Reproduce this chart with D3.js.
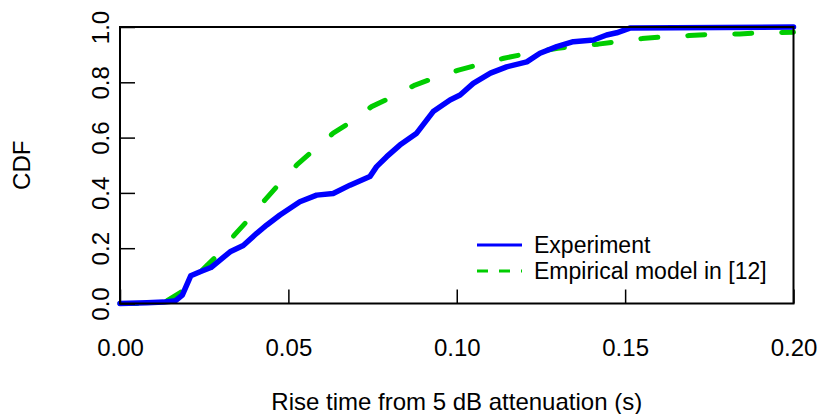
<!DOCTYPE html>
<html>
<head>
<meta charset="utf-8">
<script src="https://cdn.jsdelivr.net/npm/d3@7"></script>
<style>
  body { margin: 0; background: #fff; }
  text { font-family: "Liberation Sans", Arial, Helvetica, sans-serif; fill: #000; }
</style>
</head>
<body>
<div id="chart"></div>
<script>
// values
var expX = [0, 0.008, 0.013, 0.0165, 0.0185, 0.021, 0.0238, 0.027, 0.0297, 0.0327, 0.0366, 0.0406, 0.0436, 0.0475, 0.0534, 0.0584, 0.0633, 0.0683, 0.0742, 0.0762, 0.0792, 0.0831, 0.0881, 0.093, 0.098, 0.101, 0.1049, 0.110, 0.1148, 0.1208, 0.1247, 0.1297, 0.1346, 0.1406, 0.1445, 0.1475, 0.1514, 0.2];
var expY = [0, 0.003, 0.005, 0.01, 0.03, 0.10, 0.115, 0.13, 0.157, 0.187, 0.21, 0.254, 0.284, 0.32, 0.368, 0.392, 0.398, 0.428, 0.459, 0.495, 0.531, 0.573, 0.616, 0.694, 0.736, 0.754, 0.796, 0.833, 0.856, 0.874, 0.905, 0.929, 0.947, 0.953, 0.971, 0.979, 0.996, 1.0];
var modX = [0, 0.012, 0.014, 0.018, 0.022, 0.026, 0.029, 0.034, 0.0376, 0.043, 0.047, 0.0525, 0.057, 0.0633, 0.068, 0.0747, 0.08, 0.0876, 0.093, 0.1005, 0.106, 0.114, 0.12, 0.13, 0.134, 0.142, 0.1475, 0.155, 0.162, 0.169, 0.176, 0.184, 0.19, 0.2];
var modY = [0, 0, 0.01, 0.04, 0.09, 0.14, 0.175, 0.248, 0.296, 0.374, 0.429, 0.501, 0.549, 0.616, 0.652, 0.712, 0.742, 0.79, 0.814, 0.844, 0.862, 0.887, 0.902, 0.923, 0.929, 0.938, 0.947, 0.958, 0.965, 0.969, 0.974, 0.975, 0.979, 0.981];
var xTicks = [0, 0.05, 0.10, 0.15, 0.20];
var yTicks = [0, 0.2, 0.4, 0.6, 0.8, 1.0];
var seriesNames = ["Experiment", "Empirical model in [12]"];
var seriesColors = ["#0000ff", "#00cd00"];

var W = 819, H = 414;
var svg = d3.select("#chart").append("svg")
  .attr("width", W).attr("height", H);

var x = d3.scaleLinear().domain([0, 0.2]).range([120, 793.5]);
var y = d3.scaleLinear().domain([0, 1]).range([303.5, 27]);

// lines (model first, experiment on top)
var line = d3.line().x(function(d) { return x(d[0]); }).y(function(d) { return y(d[1]); });
var modData = modX.map(function(v, i) { return [v, modY[i]]; });
var expData = expX.map(function(v, i) { return [v, expY[i]]; });

svg.append("path")
  .attr("d", line(modData))
  .style("fill", "none")
  .style("stroke", seriesColors[1])
  .style("stroke-width", 5)
  .style("stroke-dasharray", "17,30")
  .style("stroke-linecap", "round")
  .style("stroke-linejoin", "round");

svg.append("path")
  .attr("d", line(expData))
  .style("fill", "none")
  .style("stroke", seriesColors[0])
  .style("stroke-width", 5.5)
  .style("stroke-linejoin", "round")
  .style("stroke-linecap", "round");

// axes with inward ticks
var xAxis = svg.append("g")
  .attr("transform", "translate(0," + y(0) + ")")
  .call(d3.axisBottom(x).tickValues(xTicks).tickFormat(d3.format(".2f")).tickSizeInner(-14).tickSizeOuter(0));
xAxis.select(".domain").remove();
xAxis.selectAll("line").style("stroke-width", 1.5);
xAxis.selectAll("text")
  .attr("y", 52).attr("dy", 0)
  .style("font-size", "24px");

var yAxis = svg.append("g")
  .attr("transform", "translate(" + x(0) + ",0)")
  .call(d3.axisLeft(y).tickValues(yTicks).tickFormat(d3.format(".1f")).tickSizeInner(-15).tickSizeOuter(0));
yAxis.select(".domain").remove();
yAxis.selectAll("line").style("stroke-width", 1.5);
yAxis.selectAll("text")
  .attr("x", 0).attr("y", 0).attr("dy", 0)
  .attr("transform", "translate(-11,0) rotate(-90)")
  .style("text-anchor", "middle")
  .style("font-size", "24px");

// box
svg.append("rect")
  .attr("x", x(0)).attr("y", y(1))
  .attr("width", x(0.2) - x(0)).attr("height", y(0) - y(1))
  .style("fill", "none").style("stroke", "#000").style("stroke-width", 2);

// axis titles
svg.append("text")
  .attr("x", (x(0) + x(0.2)) / 2).attr("y", 410)
  .style("text-anchor", "middle").style("font-size", "24px")
  .text("Rise time from 5 dB attenuation (s)");

svg.append("text")
  .attr("transform", "translate(30," + ((y(0) + y(1)) / 2) + ") rotate(-90)")
  .style("text-anchor", "middle").style("font-size", "24px")
  .text("CDF");

// legend
var legend = svg.append("g");
seriesNames.forEach(function(name, i) {
  var ly = 245 + i * 26;
  legend.append("line")
    .attr("x1", 477).attr("x2", 522).attr("y1", ly).attr("y2", ly)
    .style("stroke", seriesColors[i])
    .style("stroke-width", 3)
    .style("stroke-dasharray", i == 1 ? "11,11" : null);
  legend.append("text")
    .attr("x", 534).attr("y", ly).attr("dy", "0.35em")
    .style("font-size", "23px")
    .text(name);
});
</script>
</body>
</html>
